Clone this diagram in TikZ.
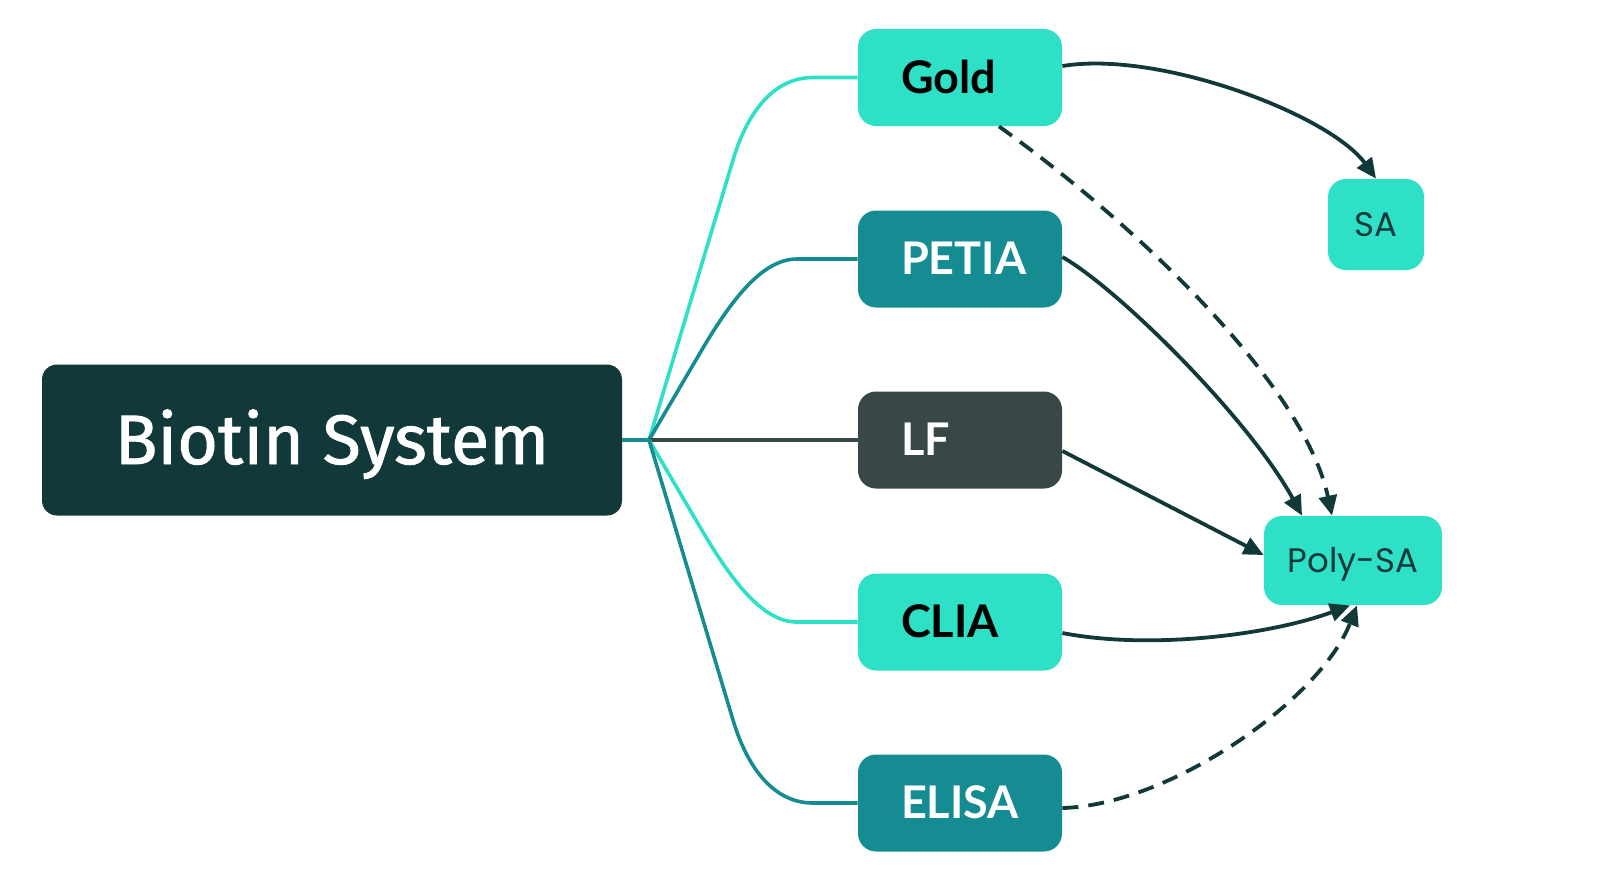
\documentclass[tikz,border=0pt]{standalone}
\usepackage{fontspec}
\usetikzlibrary{arrows.meta,calc}
\newfontfamily\bigfont{Fira Sans}[FakeBold=1.2]
\newfontfamily\labfont{Lato}
\newfontfamily\safont{Poppins}
\definecolor{turq}{HTML}{2EE0C6}
\definecolor{tealc}{HTML}{148C91}
\definecolor{grayc}{HTML}{384747}
\definecolor{dark}{HTML}{12393A}
\begin{document}
\begin{tikzpicture}[x=0.5pt,y=-0.5pt,
  box/.style={rounded corners=9pt, minimum width=102pt, minimum height=48.5pt, inner sep=0pt},
  lab/.style={anchor=west, inner sep=0pt, text height=15.8pt, text depth=0pt, font=\labfont\bfseries\fontsize{22.5}{26}\selectfont},
  sabox/.style={box, fill=turq, text=dark, text height=12pt, text depth=0pt, font=\safont\fontsize{17}{20}\selectfont},
  branch/.style={line width=1.8pt},
  arr/.style={line width=1.9pt, draw=dark, -{Triangle[length=10pt,width=9pt]}},
  dsh/.style={arr, dash pattern=on 8pt off 5pt}]
\useasboundingbox (0,0) rectangle (1598,890);

\node[box, fill=dark, minimum width=290pt, minimum height=75.5pt, rounded corners=7.5pt, text=white, text height=24pt, text depth=0pt, font=\bigfont\fontsize{35}{40}\selectfont] (bio) at (332,440) {Biotin System};
\coordinate (J) at (649,440);

\node[box, fill=turq] (gold) at (960,77.5) {};
\node[lab, text=black] (goldL) at ($(gold.west)+(43,0)$) {Gold};
\node[box, fill=tealc] (petia) at (960,259) {};
\node[lab, text=white] (petiaL) at ($(petia.west)+(43,0)$) {PETIA};
\node[box, fill=grayc] (lf) at (960,440) {};
\node[lab, text=white] (lfL) at ($(lf.west)+(43,0)$) {LF};
\node[box, fill=turq] (clia) at (960,622) {};
\node[lab, text=black] (cliaL) at ($(clia.west)+(43,0)$) {CLIA};
\node[box, fill=tealc] (elisa) at (960,803) {};
\node[lab, text=white] (elisaL) at ($(elisa.west)+(43,0)$) {ELISA};

\node[sabox, minimum width=48pt, minimum height=45.5pt] (sa) at (1376,224.5) {SA};
\node[sabox, minimum width=89pt, minimum height=44.5pt] (poly) at (1353,560.5) {Poly-SA};

% branches
\draw[branch, draw=tealc] (bio.east) -- (J);
\draw[branch, draw=turq] (J) -- (733,160) .. controls (748,110) and (775,77.5) .. (813,77.5) -- (gold.west);
\draw[branch, draw=tealc] (J) -- (700,353) .. controls (735,293) and (765,259) .. (797,259) -- (petia.west);
\draw[branch, draw=grayc] (J) -- (lf.west);
\draw[branch, draw=turq] (J) -- (700,527) .. controls (735,587) and (765,622) .. (797,622) -- (clia.west);
\draw[branch, draw=tealc] (J) -- (733,720) .. controls (748,770) and (775,803) .. (813,803) -- (elisa.west);

% arrows
\draw[arr] ($(gold.east)+(0,-11.5)$) .. controls (1160,50) and (1330,115) .. (sa.north);
\draw[dsh] ($(gold.south)+(39,0)$) .. controls (1150,235) and (1305,390) .. ($(poly.north)+(-21,0)$);
\draw[arr] ($(petia.east)+(0,-2)$) .. controls (1120,290) and (1250,420) .. ($(poly.north)+(-51,0)$);
\draw[arr] ($(lf.east)+(0,11)$) -- ($(poly.west)+(0,-5.5)$);
\draw[arr] ($(clia.east)+(0,11)$) .. controls (1150,650) and (1270,635) .. ($(poly.south)+(-3,0)$);
\draw[dsh] ($(elisa.east)+(0,5)$) .. controls (1170,805) and (1320,700) .. ($(poly.south)+(4,0)$);
\end{tikzpicture}
\end{document}
